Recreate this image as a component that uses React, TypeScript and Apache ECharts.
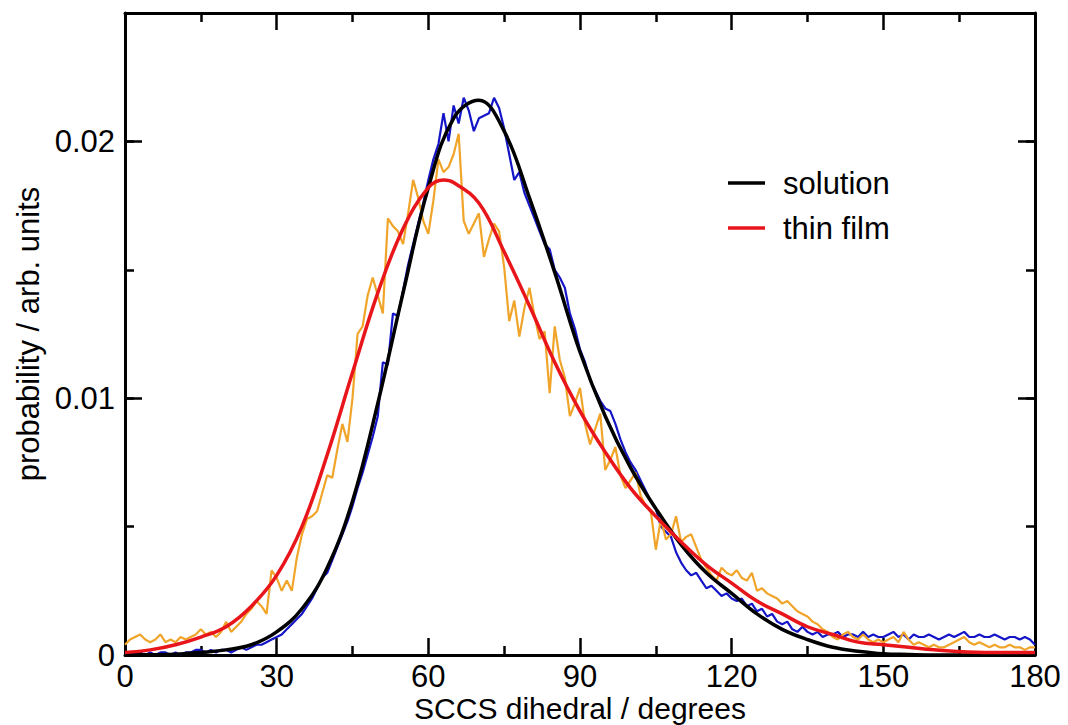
import React, { useEffect, useRef } from "react";
import * as echarts from "echarts";

const xTicks = [0, 30, 60, 90, 120, 150, 180];
const yTicks = [0, 0.01, 0.02];
const legendNames = ["solution", "thin film"];

// noisy histogram data, one value per degree from 0 to 180
const solutionHist = [
  0.0001, 0.0001, 0.0000, 0.0001, 0.0000, 0.0001, 0.0000, 0.0001, 0.0001, 0.0000,
  0.0001, 0.0000, 0.0001, 0.0001, 0.0002, 0.0002, 0.0001, 0.0002, 0.0001, 0.0002,
  0.0002, 0.0001, 0.0002, 0.0003, 0.0002, 0.0003, 0.0004, 0.0004, 0.0005, 0.0006,
  0.0007, 0.0008, 0.0010, 0.0012, 0.0014, 0.0016, 0.0019, 0.0022, 0.0026, 0.0030,
  0.0032, 0.0037, 0.0042, 0.0047, 0.0052, 0.0058, 0.0065, 0.0071, 0.0078, 0.0085,
  0.0093, 0.0114, 0.0113, 0.0133, 0.0132, 0.0142, 0.0152, 0.0160, 0.0168, 0.0176,
  0.0185, 0.0193, 0.0199, 0.0211, 0.0200, 0.0214, 0.0207, 0.0217, 0.0212, 0.0204,
  0.0209, 0.0210, 0.0211, 0.0217, 0.0213, 0.0205, 0.0195, 0.0185, 0.0188, 0.0180,
  0.0175, 0.0170, 0.0165, 0.0160, 0.0158, 0.0150, 0.0147, 0.0143, 0.0133, 0.0127,
  0.0119, 0.0114, 0.0107, 0.0103, 0.0099, 0.0096, 0.0095, 0.0090, 0.0084, 0.0079,
  0.0075, 0.0072, 0.0068, 0.0064, 0.0060, 0.0057, 0.0050, 0.0048, 0.0046, 0.0040,
  0.0036, 0.0033, 0.0031, 0.0032, 0.0029, 0.0026, 0.0027, 0.0025, 0.0023, 0.0024,
  0.0022, 0.0021, 0.0022, 0.0019, 0.0020, 0.0017, 0.0018, 0.0015, 0.0016, 0.0013,
  0.0012, 0.0013, 0.0010, 0.0009, 0.0011, 0.0009, 0.0008, 0.0009, 0.0007, 0.0008,
  0.0008, 0.0009, 0.0007, 0.0008, 0.0008, 0.0007, 0.0009, 0.0007, 0.0008, 0.0007,
  0.0007, 0.0008, 0.0009, 0.0007, 0.0008, 0.0006, 0.0008, 0.0007, 0.0007, 0.0008,
  0.0007, 0.0006, 0.0007, 0.0008, 0.0007, 0.0008, 0.0009, 0.0007, 0.0007, 0.0008,
  0.0007, 0.0007, 0.0008, 0.0007, 0.0006, 0.0007, 0.0007, 0.0006, 0.0007, 0.0006,
  0.0004,
];

const filmHist = [
  0.0004, 0.0006, 0.0007, 0.0008, 0.0006, 0.0005, 0.0006, 0.0008, 0.0005, 0.0006,
  0.0005, 0.0007, 0.0006, 0.0007, 0.0008, 0.0010, 0.0008, 0.0009, 0.0007, 0.0009,
  0.0013, 0.0009, 0.0011, 0.0013, 0.0016, 0.0018, 0.0021, 0.0019, 0.0016, 0.0033,
  0.0030, 0.0025, 0.0029, 0.0025, 0.0038, 0.0047, 0.0053, 0.0054, 0.0056, 0.0063,
  0.0070, 0.0069, 0.0080, 0.0090, 0.0083, 0.0100, 0.0125, 0.0128, 0.0140, 0.0147,
  0.0140, 0.0133, 0.0170, 0.0167, 0.0165, 0.0160, 0.0172, 0.0185, 0.0178, 0.0169,
  0.0164, 0.0177, 0.0193, 0.0188, 0.0190, 0.0195, 0.0203, 0.0169, 0.0164, 0.0168,
  0.0172, 0.0155, 0.0162, 0.0168, 0.0165, 0.0151, 0.0130, 0.0138, 0.0124, 0.0135,
  0.0143, 0.0132, 0.0123, 0.0126, 0.0102, 0.0128, 0.0115, 0.0108, 0.0093, 0.0098,
  0.0104, 0.0090, 0.0082, 0.0088, 0.0094, 0.0072, 0.0076, 0.0081, 0.0070, 0.0065,
  0.0068, 0.0071, 0.0062, 0.0058, 0.0056, 0.0041, 0.0053, 0.0045, 0.0047, 0.0054,
  0.0044, 0.0046, 0.0047, 0.0042, 0.0037, 0.0034, 0.0031, 0.0029, 0.0034, 0.0032,
  0.0031, 0.0033, 0.0030, 0.0029, 0.0032, 0.0025, 0.0026, 0.0024, 0.0023, 0.0022,
  0.0020, 0.0021, 0.0019, 0.0017, 0.0016, 0.0015, 0.0013, 0.0012, 0.0010, 0.0009,
  0.0007, 0.0006, 0.0008, 0.0009, 0.0007, 0.0006, 0.0008, 0.0006, 0.0005, 0.0006,
  0.0005, 0.0006, 0.0007, 0.0005, 0.0009, 0.0006, 0.0004, 0.0005, 0.0004, 0.0003,
  0.0004, 0.0003, 0.0003, 0.0004, 0.0005, 0.0006, 0.0007, 0.0005, 0.0004, 0.0005,
  0.0004, 0.0003, 0.0004, 0.0003, 0.0003, 0.0004, 0.0003, 0.0003, 0.0002, 0.0003,
  0.0003,
];

// fitted curves
const solutionFitX = [0, 5, 10, 15, 20, 25, 30, 35, 40, 45, 50, 55, 60, 65, 70, 75, 80, 85, 90, 95, 100, 105, 110, 115, 120, 125, 130, 135, 140, 145, 150, 155, 160, 170, 180];
const solutionFitY = [0, 0.00001, 0.00003, 0.0001, 0.0002, 0.0004, 0.0009, 0.0018, 0.0034, 0.006, 0.0098, 0.0141, 0.0182, 0.0209, 0.0216, 0.0204, 0.0178, 0.0149, 0.0118, 0.0093, 0.0073, 0.0057, 0.0043, 0.0032, 0.0024, 0.0016, 0.001, 0.0006, 0.0003, 0.00015, 0.00005, 0.00002, 0, 0, 0];

const filmFitX = [0, 5, 10, 15, 20, 25, 30, 35, 40, 45, 50, 55, 60, 63, 65, 70, 75, 80, 85, 90, 95, 100, 105, 110, 115, 120, 125, 130, 135, 140, 145, 150, 155, 160, 170, 180];
const filmFitY = [0.0001, 0.0002, 0.0004, 0.0007, 0.0011, 0.0019, 0.0031, 0.005, 0.0078, 0.011, 0.0141, 0.0166, 0.0182, 0.0185, 0.0184, 0.0176, 0.0157, 0.0136, 0.0114, 0.0095, 0.0079, 0.0065, 0.0054, 0.0044, 0.0035, 0.0028, 0.0021, 0.0016, 0.0011, 0.0008, 0.0005, 0.0004, 0.0003, 0.0002, 0.0001, 0.0001];

const FONT = "'Liberation Sans', Arial, Helvetica, sans-serif";

export default function App() {
  const ref = useRef<HTMLDivElement>(null);

  useEffect(() => {
    if (!ref.current) return;
    const chart = echarts.init(ref.current, undefined, { renderer: "svg" });

    const histPairs = (arr: number[]) => arr.map((v, i) => [i, v]);
    const fitPairs = (xs: number[], ys: number[]) => xs.map((x, i) => [x, ys[i]]);

    const labelFmt = (v: number) => {
      const m = yTicks.find((t) => Math.abs(t - v) < 1e-9);
      return m === undefined ? "" : String(m);
    };

    const frameLine = { show: true, onZero: false, lineStyle: { color: "#000", width: 3 } };

    const commonX = {
      type: "value",
      min: xTicks[0],
      max: xTicks[xTicks.length - 1],
      interval: xTicks[1] - xTicks[0],
      splitLine: { show: false },
      axisLine: frameLine,
      axisTick: { show: true, inside: true, length: 17, lineStyle: { color: "#000", width: 2.5 } },
      minorTick: { show: true, splitNumber: 2, length: 9, lineStyle: { color: "#000", width: 2.5 } },
    };

    const yMajor = {
      type: "value",
      min: 0,
      max: 0.025,
      interval: 0.01,
      splitLine: { show: false },
      axisTick: { show: true, inside: true, length: 17, lineStyle: { color: "#000", width: 2.5 } },
    };
    const yMinor = {
      type: "value",
      min: 0,
      max: 0.025,
      interval: 0.005,
      splitLine: { show: false },
      axisLine: { show: false, onZero: false },
      axisLabel: { show: false },
      axisTick: { show: true, inside: true, length: 9, lineStyle: { color: "#000", width: 2.5 } },
    };

    const legendY = [183, 228];
    const graphic: any[] = [];
    const legendColors = ["#000000", "#e8151b"];
    legendNames.forEach((name, i) => {
      graphic.push({
        type: "line",
        shape: { x1: 728, y1: legendY[i], x2: 765, y2: legendY[i] },
        style: { stroke: legendColors[i], lineWidth: 3.5 },
      });
      graphic.push({
        type: "text",
        x: 783,
        y: legendY[i],
        style: { text: name, fill: "#000", font: `31px ${FONT}`, verticalAlign: "middle" },
      });
    });

    chart.setOption({
      animation: false,
      backgroundColor: "#ffffff",
      textStyle: { fontFamily: FONT },
      grid: { left: 125, right: 33, top: 13, bottom: 70, containLabel: false, outerBoundsMode: "none" },
      xAxis: [
        {
          ...commonX,
          position: "bottom",
          name: "SCCS dihedral / degrees",
          nameLocation: "middle",
          nameGap: 38,
          nameMoveOverlap: false,
          nameTextStyle: { color: "#000", fontSize: 30, lineHeight: 30, fontFamily: FONT },
          axisLabel: { show: true, color: "#000", fontSize: 31, lineHeight: 31, fontFamily: FONT, margin: 6 },
        },
        {
          ...commonX,
          position: "top",
          axisLabel: { show: false },
        },
      ],
      yAxis: [
        {
          ...yMajor,
          position: "left",
          axisLine: frameLine,
          name: "probability / arb. units",
          nameLocation: "middle",
          nameGap: 81,
          nameTextStyle: { color: "#000", fontSize: 31, fontFamily: FONT },
          axisLabel: { show: true, color: "#000", fontSize: 31, fontFamily: FONT, margin: 10, formatter: labelFmt, showMaxLabel: false },
        },
        {
          ...yMajor,
          position: "right",
          axisLine: frameLine,
          axisLabel: { show: false },
        },
        { ...yMinor, position: "left" },
        { ...yMinor, position: "right" },
      ],
      graphic,
      series: [
        {
          name: "solution histogram",
          type: "line",
          data: histPairs(solutionHist),
          symbol: "none",
          lineStyle: { color: "#1515c8", width: 2.2 },
          z: 2,
        },
        {
          name: "thin film histogram",
          type: "line",
          data: histPairs(filmHist),
          symbol: "none",
          lineStyle: { color: "#f0a52a", width: 2.2 },
          z: 3,
        },
        {
          name: legendNames[0],
          type: "line",
          data: fitPairs(solutionFitX, solutionFitY),
          symbol: "none",
          smooth: 0.4,
          lineStyle: { color: "#000000", width: 3.5 },
          z: 4,
        },
        {
          name: legendNames[1],
          type: "line",
          data: fitPairs(filmFitX, filmFitY),
          symbol: "none",
          smooth: 0.4,
          lineStyle: { color: "#e8151b", width: 3.5 },
          z: 5,
        },
      ],
    });

    return () => chart.dispose();
  }, []);

  return (
    <div
      ref={ref}
      style={{ position: "fixed", left: 0, top: 0, width: 1068, height: 725, background: "#fff" }}
    />
  );
}
